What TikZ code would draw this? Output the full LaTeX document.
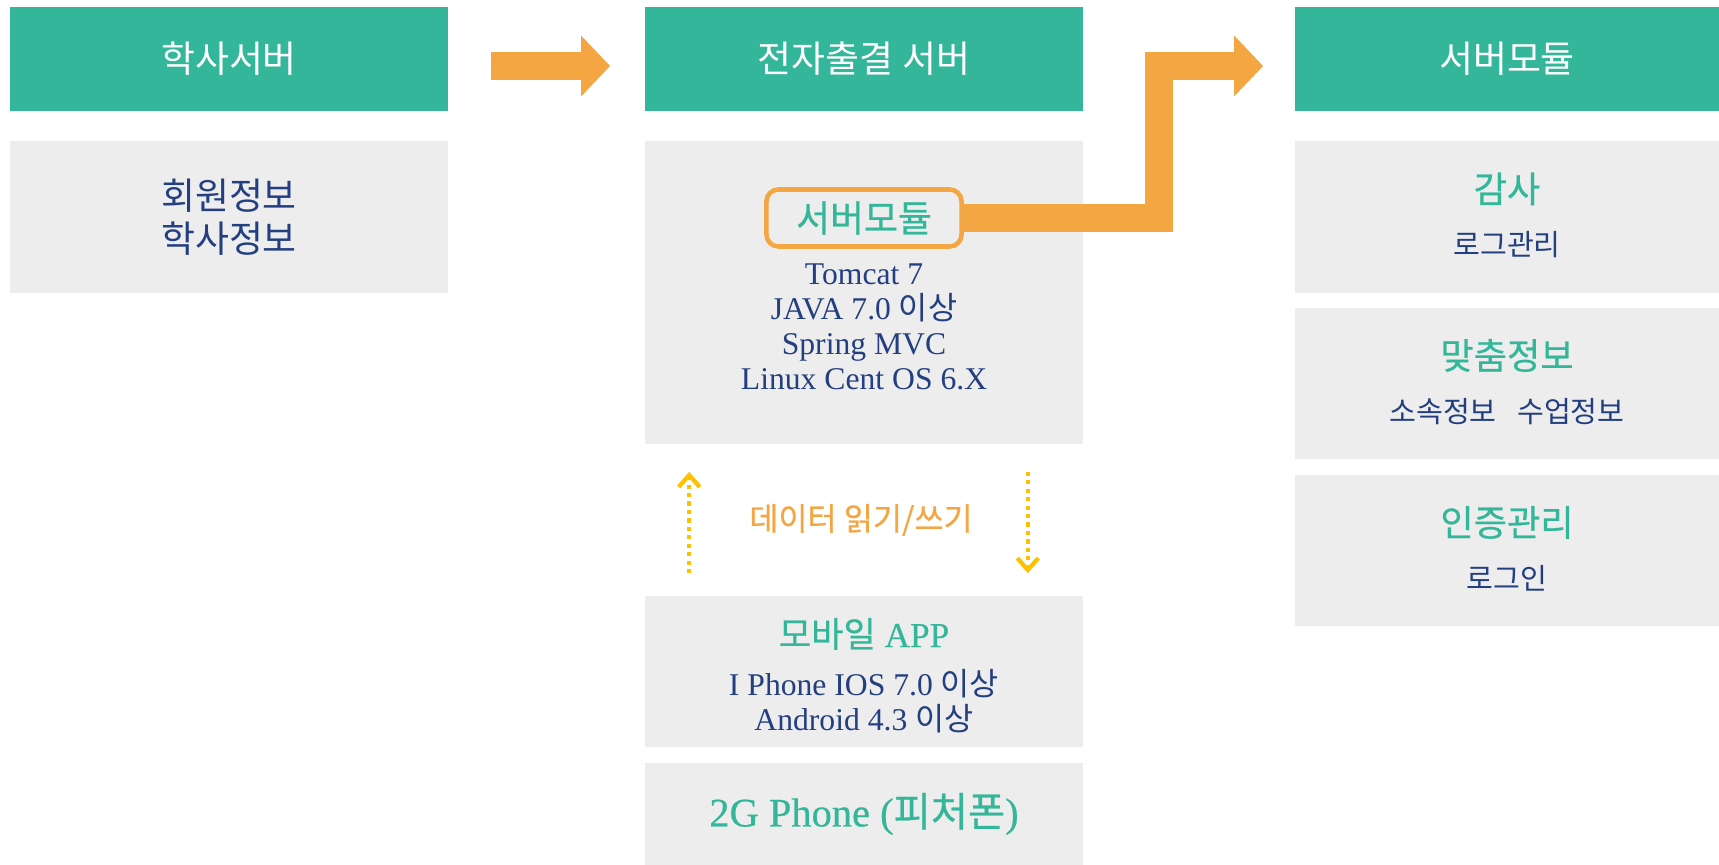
\documentclass[tikz,border=0pt]{standalone}
\usepackage{fontspec}
\setmainfont{Liberation Serif}
\newfontfamily\cjk{Noto Sans CJK KR}
\newfontfamily\cjkb{Noto Sans CJK KR}[FakeBold=0.6]
\newfontfamily\serb{Liberation Serif}[FakeBold=0.5]
\usetikzlibrary{arrows.meta,positioning}
\definecolor{hdgreen}{HTML}{33B699}
\definecolor{boxgray}{HTML}{EDEDED}
\definecolor{arrorange}{HTML}{F4A643}
\definecolor{txtnavy}{HTML}{233F80}
\definecolor{dotyellow}{HTML}{FFC000}
\newcommand{\ko}[1]{{\cjk #1}}
\newcommand{\kob}[1]{{\cjkb #1}}

\begin{document}
\begin{tikzpicture}[x=0.01cm,y=-0.01cm]
\tikzstyle{every node}+=[inner sep=0pt]
\tikzstyle{hdbox}=[fill=hdgreen, minimum height=1.04cm, text=white, font=\cjk\fontsize{10.5}{12}\selectfont]
\tikzstyle{panelbox}=[fill=boxgray]
\tikzstyle{ttl}=[text=hdgreen, font=\serb\fontsize{10}{12}\selectfont]
\tikzstyle{infotxt}=[text=txtnavy, align=center, font=\fontsize{9}{10}\selectfont]
\tikzstyle{bigarrow}=[draw=arrorange, line width=0.28cm, line join=miter, -{Triangle[length=0.29cm,width=0.59cm]}]
\tikzstyle{rwarrow}=[draw=dotyellow, line width=1.2pt, dash pattern=on 1.2pt off 1.2pt, -{Straight Barb[length=0.12cm,width=0.21cm]}]
\useasboundingbox (0,0) rectangle (1719,865);
% left column
\node[hdbox, minimum width=4.38cm] (lhead) at (229,59) {학사서버};
\node[panelbox, minimum width=4.38cm, minimum height=1.52cm] (lpanel) at (229,217) {};
\node[infotxt, font=\cjk\fontsize{10.5}{12.3}\selectfont] (members) at (lpanel) {회원정보\\학사정보};
% middle column
\node[hdbox, minimum width=4.38cm] (mhead) at (864,59) {전자출결 서버};
\node[panelbox, minimum width=4.38cm, minimum height=3.03cm] (mpanel) at (864,292.5) {};
\node[infotxt] (specs) at (864,327) {Tomcat 7\\JAVA 7.0 \ko{이상}\\Spring MVC\\Linux Cent OS 6.X};
\node[text=arrorange, font=\cjkb\fontsize{9}{10}\selectfont] (rwlabel) at (861,520) {데이터 읽기/쓰기};
\node[panelbox, minimum width=4.38cm, minimum height=1.51cm] (mobile) at (864,671.5) {};
\node[ttl] (mobttl) at ([yshift=0.375cm]mobile.center) {\kob{모바일} APP};
\node[infotxt] (mobinfo) at ([yshift=-0.3cm]mobile.center) {I Phone IOS 7.0 \ko{이상}\\Android 4.3 \ko{이상}};
\node[panelbox, minimum width=4.38cm, minimum height=1.02cm] (feature) at (864,814) {};
\node[ttl, font=\serb\fontsize{11.5}{13}\selectfont] (featttl) at (feature) {2G Phone (\kob{피처폰})};
% right column
\node[hdbox, minimum width=4.24cm] (rhead) at (1507,59) {서버모듈};
\node[panelbox, minimum width=4.24cm, minimum height=1.52cm] (audit) at (1507,217) {};
\node[panelbox, minimum width=4.24cm, minimum height=1.51cm] (custom) at (1507,383.5) {};
\node[panelbox, minimum width=4.24cm, minimum height=1.51cm] (auth) at (1507,550.5) {};
\node[ttl, font=\cjkb\fontsize{10.3}{12}\selectfont] (auditttl) at ([yshift=0.28cm]audit.center) {감사};
\node[infotxt, font=\cjk\fontsize{8.3}{10}\selectfont] (auditinfo) at ([yshift=-0.28cm]audit.center) {로그관리};
\node[ttl, font=\cjkb\fontsize{10.3}{12}\selectfont] (customttl) at ([yshift=0.28cm]custom.center) {맞춤정보};
\node[infotxt, font=\cjk\fontsize{8.3}{10}\selectfont] (custominfo) at ([yshift=-0.28cm]custom.center) {소속정보\hspace{0.7em}수업정보};
\node[ttl, font=\cjkb\fontsize{10.3}{12}\selectfont] (authttl) at ([yshift=0.28cm]auth.center) {인증관리};
\node[infotxt, font=\cjk\fontsize{8.3}{10}\selectfont] (authinfo) at ([yshift=-0.28cm]auth.center) {로그인};
% arrows
\draw[bigarrow] ([xshift=0.42cm,yshift=-0.07cm]lhead.east) -- ([xshift=-0.34cm,yshift=-0.07cm]mhead.west);
\draw[bigarrow] (964,218) -- ++(1.95cm,0pt) |- ([xshift=-0.31cm,yshift=-0.07cm]rhead.west);
\node[draw=arrorange, line width=1.3pt, rounded corners=0.12cm, minimum width=1.95cm, minimum height=0.57cm, fill=boxgray, ttl, font=\cjkb\fontsize{10.5}{12}\selectfont] (modbox) at (864,218) {서버모듈};
\coordinate (upx) at ([xshift=0.45cm]mobile.north west);
\coordinate (downx) at ([xshift=-0.56cm]mobile.north east);
\draw[rwarrow, shorten <=0.22cm, shorten >=0.27cm] (upx) -- (upx |- mpanel.south);
\draw[rwarrow, shorten <=0.27cm, shorten >=0.22cm] (downx |- mpanel.south) -- (downx);
\end{tikzpicture}
\end{document}
